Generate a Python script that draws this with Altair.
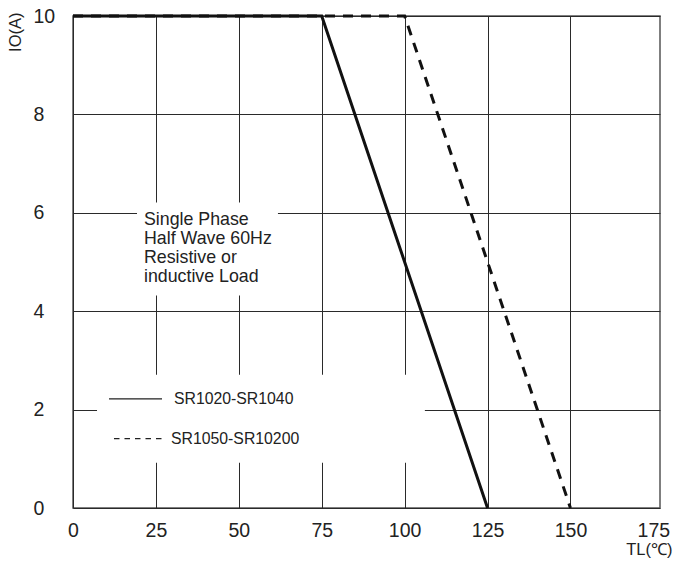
import altair as alt
import pandas as pd

# Derating curves
tl_a = [0, 75, 125]
io_a = [10, 10, 0]
tl_b = [0, 100, 150]
io_b = [10, 10, 0]
series_names = ["SR1020-SR1040", "SR1050-SR10200"]

x_ticks = [0, 25, 50, 75, 100, 125, 150, 175]
y_ticks = [0, 2, 4, 6, 8, 10]

note_lines = ["Single Phase", "Half Wave 60Hz", "Resistive or", "inductive Load"]

W, H = 587, 492
FONT = "Liberation Sans"
X_MAX = 177

curves = pd.DataFrame({
    "TL": tl_a + tl_b,
    "IO": io_a + io_b,
    "series": [series_names[0]] * 3 + [series_names[1]] * 3,
    "order": [0, 1, 2, 0, 1, 2],
})

xs = alt.Scale(domain=[0, X_MAX], nice=False, zero=False)
ys = alt.Scale(domain=[0, 10], nice=False, zero=False)

xax = alt.Axis(values=x_ticks, grid=True, gridColor="#2a2a2a", gridWidth=1,
               gridOpacity={"condition": {"test": "datum.value >= 175", "value": 0},
                            "value": 1},
               domain=False, ticks=False, tickSize=0, labelPadding=13,
               labelFlush=False, labelOverlap=False,
               labelFontSize=19.5, labelFont=FONT, labelColor="#222",
               title="TL(℃)", titleFont=FONT, titleFontSize=16.5,
               titleFontWeight="normal", titleColor="#222", titleAnchor="end",
               titleAlign="right", titleBaseline="alphabetic",
               titleX=W + 12, titleY=46)
yax = alt.Axis(values=y_ticks, grid=True, gridColor="#2a2a2a", gridWidth=1,
               domain=False, ticks=False, tickSize=0, labelPadding=40,
               labelFlush=False, labelOverlap=False,
               labelAlign="left", labelFontSize=19.5, labelFont=FONT,
               labelColor="#222", title="IO(A)", titleFont=FONT,
               titleFontSize=16.5, titleFontWeight="normal", titleColor="#222",
               titleAngle=270, titleAlign="right", titleBaseline="middle",
               titleX=-58, titleY=-4)

base = alt.Chart(curves)

# white panels over the grid (data units)
boxes = pd.DataFrame({
    "x1": [19.3, 7.24], "x2": [61.8, 106.1],
    "y1": [4.32, 0.92], "y2": [6.21, 2.71],
})
box_layer = alt.Chart(boxes).mark_rect(color="white").encode(
    x=alt.X("x1:Q", scale=xs, axis=xax), x2="x2:Q",
    y=alt.Y("y1:Q", scale=ys, axis=yax), y2="y2:Q",
)

solid = base.transform_filter(alt.datum.series == series_names[0]).mark_line(
    color="#111", strokeWidth=3, clip=False
).encode(x=alt.X("TL:Q", scale=xs), y=alt.Y("IO:Q", scale=ys), order="order:Q")

dashed = base.transform_filter(alt.datum.series == series_names[1]).mark_line(
    color="#111", strokeWidth=3, strokeDash=[10, 8], clip=False
).encode(x=alt.X("TL:Q", scale=xs), y=alt.Y("IO:Q", scale=ys), order="order:Q")

notes = pd.DataFrame({"t": note_lines, "x": [21.4] * 4,
                      "y": [5.86, 5.47, 5.09, 4.70]})
note_layer = alt.Chart(notes).mark_text(
    align="left", baseline="middle", fontSize=17.8, font=FONT, color="#222"
).encode(x=alt.X("x:Q", scale=xs), y=alt.Y("y:Q", scale=ys), text="t:N")

leg = pd.DataFrame({"name": series_names, "x1": [10.86, 12.36], "x2": [26.84, 26.84],
                    "tx": [30.45, 29.55], "y": [2.22, 1.41],
                    "dash": ["solid", "dash"]})
leg_lines = alt.Chart(leg).mark_rule(color="#222", strokeWidth=1.2).encode(
    x=alt.X("x1:Q", scale=xs), x2="x2:Q", y=alt.Y("y:Q", scale=ys),
    strokeDash=alt.StrokeDash("dash:N",
                              scale=alt.Scale(domain=["solid", "dash"],
                                              range=[[1, 0], [5.5, 5]]),
                              legend=None),
)
leg_text = alt.Chart(leg).mark_text(
    align="left", baseline="middle", fontSize=15.8, font=FONT, color="#222"
).encode(x=alt.X("tx:Q", scale=xs), y=alt.Y("y:Q", scale=ys), text="name:N")

chart = alt.layer(box_layer, solid, dashed, note_layer, leg_lines, leg_text).properties(
    width=W, height=H,
    autosize=alt.AutoSizeParams(type="none"),
    padding={"left": 73, "top": 16, "right": 18, "bottom": 54},
    background="white",
).configure_view(stroke="#555", strokeWidth=1.5)

chart.save("out.html", embed_options={"renderer": "svg", "actions": False})
